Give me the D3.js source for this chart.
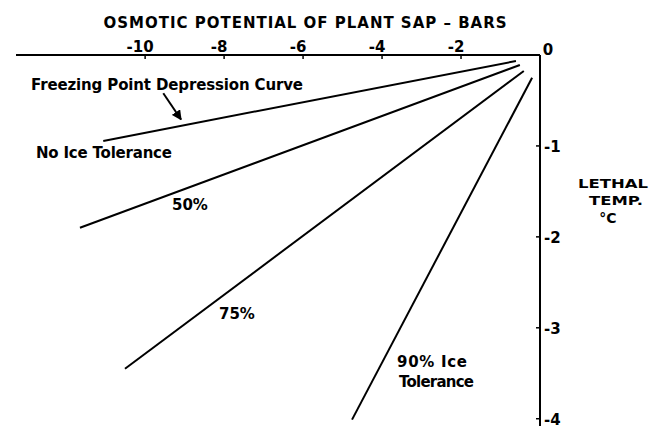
<!DOCTYPE html>
<html>
<head>
<meta charset="utf-8">
<script src="https://cdn.jsdelivr.net/npm/d3@7"></script>
<style>
  body { margin: 0; background: #fff; }
  .lbl { font-family: "DejaVu Sans", sans-serif; font-weight: bold; fill: #000; }
</style>
</head>
<body>
<div id="chart"></div>
<script>
const W = 653, H = 429;

// osmotic potential (bars) and lethal temperature (deg C) at the two ends of each line
const seriesNames = ["No Ice Tolerance", "50%", "75%", "90% Ice Tolerance"];
const osmoticEnds = [[-0.61, -11.06], [-0.51, -11.65], [-0.41, -10.51], [-0.20, -4.76]];
const lethalEnds  = [[-0.066, -0.945], [-0.11, -1.90], [-0.176, -3.45], [-0.25, -4.01]];

const xTicks = [-10, -8, -6, -4, -2];
const yTicks = [-1, -2, -3, -4];

// arrow pointing at the freezing point line (tail, head) in data units
const arrowX = [-9.54, -9.09];
const arrowY = [-0.42, -0.71];

var x = d3.scaleLinear().domain([-13.27, 0]).range([16, 540]);
var y = d3.scaleLinear().domain([0, -4.08]).range([55, 426]);

var svg = d3.select("#chart").append("svg")
    .attr("width", W)
    .attr("height", H);

// top axis
svg.append("line")
    .attr("x1", x(-13.27)).attr("x2", x(0))
    .attr("y1", y(0)).attr("y2", y(0))
    .attr("stroke", "#000").attr("stroke-width", 2);

svg.selectAll(".xtick").data(xTicks).enter().append("line")
    .attr("x1", d => x(d)).attr("x2", d => x(d))
    .attr("y1", y(0)).attr("y2", y(0) + 4)
    .attr("stroke", "#000").attr("stroke-width", 1.5);

svg.selectAll(".xlab").data(xTicks).enter().append("text")
    .attr("class", "lbl")
    .attr("x", d => x(d) - 5)
    .attr("y", y(0) - 3)
    .attr("text-anchor", "middle")
    .style("font-size", "15px")
    .text(d => "-" + Math.abs(d));

svg.append("text")
    .attr("class", "lbl")
    .attr("x", x(0) + 8).attr("y", y(0))
    .attr("text-anchor", "middle")
    .style("font-size", "15px")
    .text("0");

// right axis
svg.append("line")
    .attr("x1", x(0)).attr("x2", x(0))
    .attr("y1", y(0)).attr("y2", y(-4.08))
    .attr("stroke", "#000").attr("stroke-width", 2);

svg.selectAll(".ytick").data(yTicks).enter().append("line")
    .attr("x1", x(0) - 4).attr("x2", x(0))
    .attr("y1", d => y(d)).attr("y2", d => y(d))
    .attr("stroke", "#000").attr("stroke-width", 1.5);

svg.selectAll(".ylab").data(yTicks).enter().append("text")
    .attr("class", "lbl")
    .attr("x", x(0) + 4)
    .attr("y", d => y(d) + 6)
    .style("font-size", "15px")
    .text(d => "-" + Math.abs(d));

// lines
var lineGen = d3.line().x(d => x(d[0])).y(d => y(d[1]));
svg.selectAll(".series").data(seriesNames).enter().append("path")
    .attr("d", (d, i) => lineGen(d3.zip(osmoticEnds[i], lethalEnds[i])))
    .attr("fill", "none")
    .attr("stroke", "#000")
    .attr("stroke-width", 2);

// arrow
svg.append("defs").append("marker")
    .attr("id", "head")
    .attr("viewBox", "0 0 10 10")
    .attr("refX", 9).attr("refY", 5)
    .attr("markerWidth", 5).attr("markerHeight", 5)
    .attr("orient", "auto")
  .append("path")
    .attr("d", "M0,0L10,5L0,10z")
    .attr("fill", "#000");

svg.append("line")
    .attr("x1", x(arrowX[0])).attr("y1", y(arrowY[0]))
    .attr("x2", x(arrowX[1])).attr("y2", y(arrowY[1]))
    .attr("stroke", "#000").attr("stroke-width", 2)
    .attr("marker-end", "url(#head)");

// text labels: [text, x, y, anchor, width or 0, size, adjust]
const labels = [
  ["OSMOTIC POTENTIAL OF PLANT SAP \u2013 BARS", 305, 28, "middle", 403, 15, "spacing"],
  ["Freezing Point Depression Curve", 31, 90, "start", 272, 15, "spacing"],
  ["No Ice Tolerance", 36, 158, "start", 136, 15, "spacing"],
  ["50%", 172, 210, "start", 0, 15, ""],
  ["75%", 219, 319, "start", 0, 15, ""],
  ["90% Ice", 397, 367, "start", 70, 15, "spacing"],
  ["Tolerance", 399, 387, "start", 75, 15, "spacing"],
  ["LETHAL", 613, 188, "middle", 70, 13, "spacingAndGlyphs"],
  ["TEMP.", 616, 205, "middle", 54, 13, "spacingAndGlyphs"],
  ["\u00b0C", 608, 223, "middle", 0, 14, ""]
];

var notes = svg.selectAll(".note").data(labels).enter().append("text")
    .attr("class", "lbl")
    .attr("x", d => d[1])
    .attr("y", d => d[2])
    .attr("text-anchor", d => d[3])
    .style("font-size", d => d[5] + "px")
    .text(d => d[0]);

notes.filter(d => d[4] > 0)
    .attr("textLength", d => d[4])
    .attr("lengthAdjust", d => d[6]);
</script>
</body>
</html>
